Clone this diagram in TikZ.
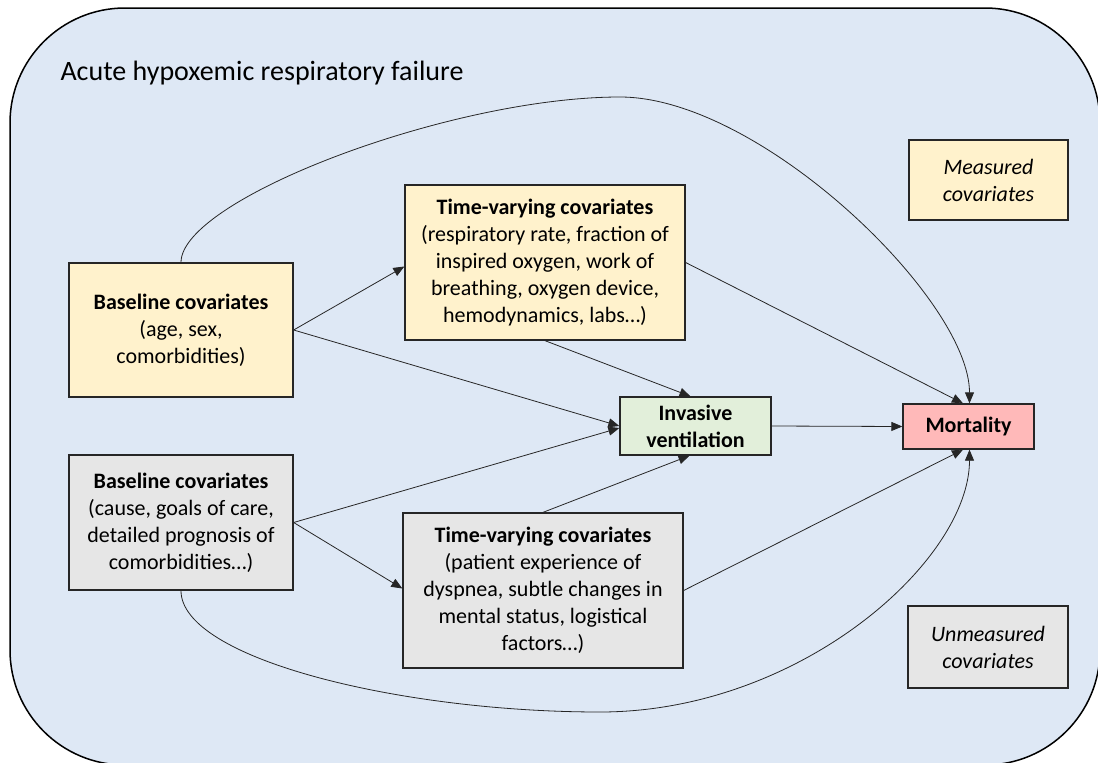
\documentclass[tikz,border=0pt]{standalone}
\usepackage{fontspec}
\setmainfont{Carlito}
\usetikzlibrary{arrows.meta,calc}
\definecolor{bgblue}{HTML}{DEE8F5}
\definecolor{boxyellow}{HTML}{FFF2CC}
\definecolor{boxgray}{HTML}{E6E6E6}
\definecolor{boxgreen}{HTML}{E2EFDA}
\definecolor{boxred}{HTML}{FFB9B9}
\tikzset{
  box/.style={draw=black!85, line width=1.3pt, inner sep=0pt, align=center,
    font=\fontsize{22}{27}\selectfont},
  conn/.style={draw=black!85, line width=0.8pt, -{Triangle[length=11pt,width=9pt]}},
  frame/.style={draw=black, line width=1.5pt, fill=bgblue},
}
\begin{document}
\begin{tikzpicture}[x=1pt,y=-1pt]
\clip (0,0) rectangle (1098,763);
\fill[white] (0,0) rectangle (1098,763);
\draw[frame, rounded corners=115pt] (10,8) rectangle (1100,765);
\node[anchor=base west, font=\fontsize{28}{34}\selectfont] (title) at (57,80) {Acute hypoxemic respiratory failure};

\node[box, fill=boxyellow, minimum width=224pt, minimum height=134pt] (by) at (181,330) {\textbf{Baseline covariates}\\(age, sex,\\comorbidities)};
\node[box, fill=boxgray, minimum width=224pt, minimum height=135pt] (bg) at (181,522.5) {\textbf{Baseline covariates}\\(cause, goals of care,\\detailed prognosis of\\comorbidities…)};
\node[box, fill=boxyellow, minimum width=280pt, minimum height=155pt] (tvy) at (545,262.5) {\textbf{Time-varying covariates}\\(respiratory rate, fraction of\\inspired oxygen, work of\\breathing, oxygen device,\\hemodynamics, labs…)};
\node[box, fill=boxgray, minimum width=280pt, minimum height=155pt] (tvg) at (543,590.5) {\textbf{Time-varying covariates}\\(patient experience of\\dyspnea, subtle changes in\\mental status, logistical\\factors…)};
\node[box, fill=boxgreen, minimum width=151pt, minimum height=58pt] (iv) at (695.5,426) {\textbf{Invasive}\\\textbf{ventilation}};
\node[box, fill=boxred, minimum width=131pt, minimum height=45pt] (mort) at (968.5,426.5) {\textbf{Mortality}};
\node[box, fill=boxyellow, minimum width=159pt, minimum height=80pt] (meas) at (988.5,180) {\textit{Measured}\\\textit{covariates}};
\node[box, fill=boxgray, minimum width=160pt, minimum height=82pt] (unmeas) at (988,647) {\textit{Unmeasured}\\\textit{covariates}};

\draw[conn] (by.east) -- ($(tvy.west)+(0,4)$);
\draw[conn] (by.east) -- ($(iv.west)+(0,0)$);
\draw[conn] (bg.east) -- ($(iv.west)+(0,2)$);
\draw[conn] (bg.east) -- ($(tvg.west)+(0,-2)$);
\draw[conn] (tvy.south) -- ($(iv.north)+(-5,0)$);
\draw[conn] (tvg.north) -- ($(iv.south)+(-6,0)$);
\draw[conn] (tvy.east) -- ($(mort.north)+(-5.5,0)$);
\draw[conn] (tvg.east) -- ($(mort.south)+(-5.5,0)$);
\draw[conn] (iv.east) -- (mort.west);

\coordinate (toppeak) at (620,97);
\coordinate (botpeak) at (600,712);
\draw[conn] (by.north) .. controls ($(by.north)+(0,-63)$) and (450,97) .. (toppeak)
  .. controls (760,97) and ($(mort.north)+(1,-104)$) .. ($(mort.north)+(1,0)$);
\draw[conn] (bg.south) .. controls ($(bg.south)+(0,68)$) and (400,712) .. (botpeak)
  .. controls (800,712) and ($(mort.south)+(1,111)$) .. ($(mort.south)+(1,0)$);
\end{tikzpicture}
\end{document}
